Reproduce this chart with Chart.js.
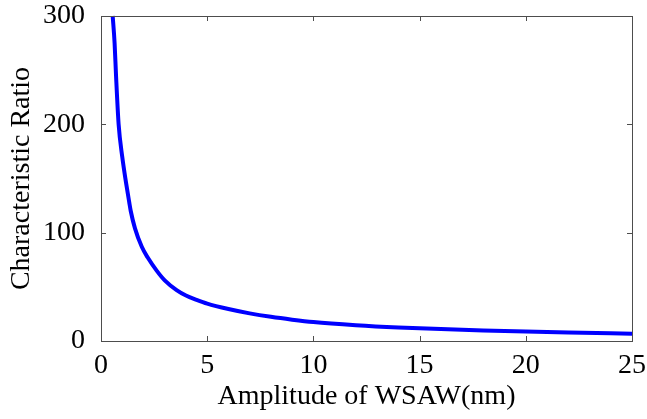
<!DOCTYPE html>
<html>
<head>
<meta charset="utf-8">
<script src="https://cdn.jsdelivr.net/npm/chart.js@4"></script>
<style>
  html, body { margin: 0; padding: 0; background: #fff; }
  #wrap { width: 647px; height: 419px; }
</style>
</head>
<body>
<div id="wrap"><canvas id="chartRatio"></canvas></div>
<script>
// data
const amplitude = [0.55, 0.64, 0.71, 0.83, 1.0, 1.18, 1.33, 1.4, 1.6, 1.92, 2.2, 2.62, 3.0, 3.56, 4.0, 4.5, 5, 6, 7, 8, 9, 10, 12, 14, 16, 18, 20, 22, 25];
const ratio = [300, 275, 244, 200, 170, 146, 128, 120, 104, 87, 77, 65, 56, 47, 42, 38, 34.5, 29.5, 25.5, 22.3, 19.7, 17.5, 14.6, 12.5, 11, 9.8, 8.7, 7.8, 6.7];
const xTicks = [0, 5, 10, 15, 20, 25];
const yTicks = [0, 100, 200, 300];

const FONT = "'Liberation Serif', 'Times New Roman', serif";

// frame + inward ticks on all four sides, like matlab
const frameTicksPlugin = {
  id: "frameTicks",
  afterDraw(chart) {
    const ctx = chart.ctx;
    const a = chart.chartArea;
    const xs = chart.scales.x;
    const ys = chart.scales.y;
    const len = 5;
    ctx.save();
    ctx.strokeStyle = "#4d4d4d";
    ctx.lineWidth = 1;
    ctx.strokeRect(a.left + 0.5, a.top + 0.5, a.right - a.left, a.bottom - a.top);
    ctx.beginPath();
    xTicks.forEach((v) => {
      const px = Math.round(xs.getPixelForValue(v)) + 0.5;
      ctx.moveTo(px, a.bottom);
      ctx.lineTo(px, a.bottom - len);
      ctx.moveTo(px, a.top);
      ctx.lineTo(px, a.top + len);
    });
    yTicks.forEach((v) => {
      const py = Math.round(ys.getPixelForValue(v)) + 0.5;
      ctx.moveTo(a.left, py);
      ctx.lineTo(a.left + len, py);
      ctx.moveTo(a.right, py);
      ctx.lineTo(a.right - len, py);
    });
    ctx.stroke();
    ctx.restore();
  },
};

const ctxRatio = document.getElementById("chartRatio").getContext("2d");
const chartRatio = new Chart(ctxRatio, {
  type: "scatter",
  data: {
    datasets: [
      {
        label: "Characteristic Ratio",
        data: amplitude.map((x, i) => ({ x: x, y: ratio[i] })),
        showLine: true,
        borderColor: "#0000ff",
        borderWidth: 4,
        pointRadius: 0,
        cubicInterpolationMode: "monotone",
        clip: false,
      },
    ],
  },
  options: {
    responsive: true,
    maintainAspectRatio: false,
    animation: false,
    layout: { padding: { left: 0, top: 16, right: 15, bottom: 6 } },
    plugins: {
      legend: { display: false },
      tooltip: { enabled: false },
    },
    scales: {
      x: {
        type: "linear",
        min: 0,
        max: 25,
        afterBuildTicks: (s) => { s.ticks = xTicks.map((v) => ({ value: v })); },
        afterFit: (s) => {
          s.height = 72;
          s.paddingLeft = 0;
          s.paddingRight = 0;
        },
        grid: { display: false },
        border: { display: false },
        ticks: { color: "#000", font: { family: FONT, size: 28 }, padding: 0, maxRotation: 0 },
        title: {
          display: true,
          text: "Amplitude of WSAW(nm)",
          color: "#000",
          font: { family: FONT, size: 28 },
          padding: { top: 0, bottom: 0 },
        },
      },
      y: {
        type: "linear",
        min: 0,
        max: 300,
        afterBuildTicks: (s) => { s.ticks = yTicks.map((v) => ({ value: v })); },
        afterFit: (s) => {
          s.width = 101;
          s.paddingTop = 0;
          s.paddingBottom = 0;
        },
        grid: { display: false },
        border: { display: false },
        ticks: { color: "#000", font: { family: FONT, size: 28 }, padding: 8 },
        title: {
          display: true,
          text: "Characteristic Ratio",
          color: "#000",
          font: { family: FONT, size: 28 },
          padding: { top: 5, bottom: 2 },
        },
      },
    },
  },
  plugins: [frameTicksPlugin],
});
</script>
</body>
</html>
